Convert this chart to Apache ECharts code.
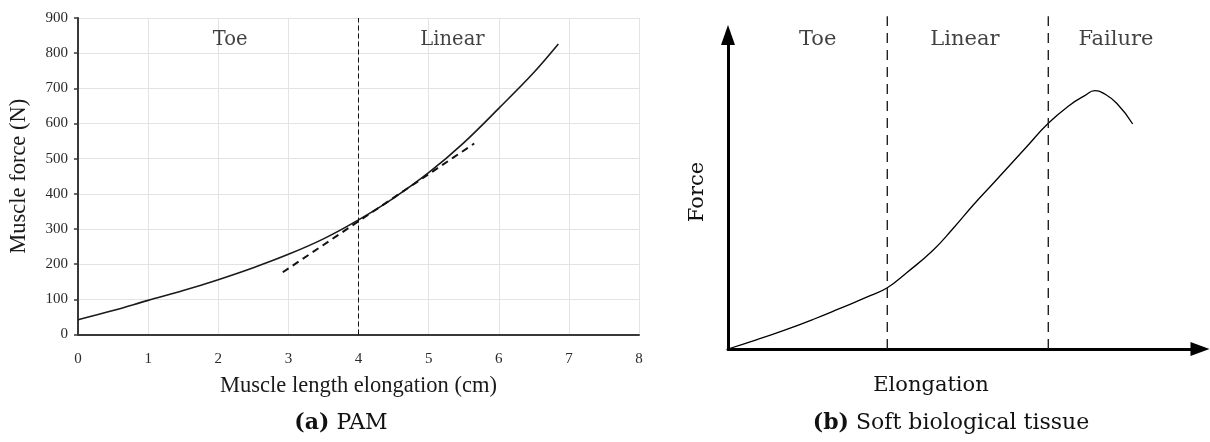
<!DOCTYPE html>
<html>
<head>
<meta charset="utf-8">
<script src="https://cdn.jsdelivr.net/npm/echarts@6/dist/echarts.min.js"></script>
<style>
  html, body { margin: 0; padding: 0; background: #fff; }
  #chart { width: 1210px; height: 442px; }
</style>
</head>
<body>
<div id="chart"></div>
<script>
// (a) PAM: measured force against muscle length elongation
const pamElongation = [0, 0.5, 1, 1.5, 2, 2.5, 3, 3.5, 4, 4.5, 5, 5.5, 6, 6.5, 6.85];
const pamForce = [42, 68, 97, 125, 156, 190, 228, 272, 326, 388, 460, 545, 643, 745, 826];
// linear-region fit (dashed)
const pamFitX = [2.92, 5.65];
const pamFitY = [177, 543];
// boundary between toe and linear regions
const pamBoundary = 4;
const pamRegions = ['Toe', 'Linear'];
const pamRegionX = [2.17, 5.34];
const pamRegionY = 837;
const pamXTicks = [0, 1, 2, 3, 4, 5, 6, 7, 8];
const pamYTicks = [0, 100, 200, 300, 400, 500, 600, 700, 800, 900];

// (b) soft biological tissue: schematic force-elongation curve (arbitrary units)
const tissueElongation = [0, 6, 12, 18, 24, 30, 33.75, 37.86, 43.5, 47.73, 51.97, 56.21, 63.28, 67.86, 72.46, 75.5, 77.75, 79.5, 82.35, 85.74];
const tissueForce = [0, 2.9, 6.0, 9.4, 13.1, 16.9, 19.5, 24.3, 31.53, 38.44, 45.86, 52.77, 64.43, 71.88, 77.71, 80.6, 82.26, 81.5, 78.25, 71.66];
const tissueBoundaries = [33.75, 67.86];
const tissueBoundaryTop = 106;
const tissueRegions = ['Toe', 'Linear', 'Failure'];
const tissueRegionX = [19, 50.2, 82.2];
const tissueRegionY = 98.4;

const serifTimes = '"Liberation Serif", "Times New Roman", serif';
const serifCM = '"DejaVu Serif", serif';

const chart = echarts.init(document.getElementById('chart'), null, { renderer: 'canvas' });

const zip = (xs, ys) => xs.map((x, i) => [x, ys[i]]);

const option = {
  backgroundColor: '#ffffff',
  animation: false,
  grid: [
    { left: 78, right: 571, top: 18, bottom: 107.5, containLabel: false },
    { left: 728, right: 10, top: 35, bottom: 93, containLabel: false }
  ],
  xAxis: [
    {
      gridIndex: 0, type: 'value', min: pamXTicks[0], max: pamXTicks[pamXTicks.length - 1], interval: 1,
      name: 'Muscle length elongation (cm)', nameLocation: 'middle', nameGap: 40,
      nameTextStyle: { fontFamily: serifTimes, fontSize: 22.5, color: '#1a1a1a' },
      axisLine: { show: true, onZero: false, lineStyle: { color: '#383838', width: 2 } },
      axisTick: { show: false },
      axisLabel: { fontFamily: serifTimes, fontSize: 15, color: '#2a2a2a', margin: 17 },
      splitLine: { show: true, lineStyle: { color: '#e3e3e3', width: 1 } }
    },
    {
      gridIndex: 1, type: 'value', min: 0, max: 100,
      name: 'Elongation', nameLocation: 'middle', nameGap: 26,
      nameTextStyle: { fontFamily: serifCM, fontSize: 21, color: '#111', padding: [0, 66, 0, 0] },
      axisLine: { show: true, onZero: false, symbol: ['none', 'triangle'], symbolSize: [14, 19],
        lineStyle: { color: '#000', width: 3 } },
      axisTick: { show: false }, axisLabel: { show: false }, splitLine: { show: false }
    }
  ],
  yAxis: [
    {
      gridIndex: 0, type: 'value', min: pamYTicks[0], max: pamYTicks[pamYTicks.length - 1], interval: 100,
      name: 'Muscle force (N)', nameLocation: 'middle', nameGap: 47, nameRotate: 90,
      nameTextStyle: { fontFamily: serifTimes, fontSize: 22.5, color: '#1a1a1a' },
      axisLine: { show: true, onZero: false, lineStyle: { color: '#383838', width: 2 } },
      axisTick: { show: true, length: 4, lineStyle: { color: '#383838', width: 1.5 } },
      axisLabel: { fontFamily: serifTimes, fontSize: 15, color: '#2a2a2a', margin: 10 },
      splitLine: { show: true, lineStyle: { color: '#e3e3e3', width: 1 } }
    },
    {
      gridIndex: 1, type: 'value', min: 0, max: 100,
      name: 'Force', nameLocation: 'middle', nameGap: 20, nameRotate: 90,
      nameTextStyle: { fontFamily: serifCM, fontSize: 21, color: '#111' },
      axisLine: { show: true, onZero: false, symbol: ['none', 'triangle'], symbolSize: [14, 20],
        lineStyle: { color: '#000', width: 3 } },
      axisTick: { show: false }, axisLabel: { show: false }, splitLine: { show: false }
    }
  ],
  series: [
    {
      name: 'PAM force', type: 'line', xAxisIndex: 0, yAxisIndex: 0,
      data: zip(pamElongation, pamForce), smooth: 0.35, showSymbol: false,
      lineStyle: { color: '#1a1a1a', width: 1.6 },
      markLine: {
        silent: true, symbol: ['none', 'none'], label: { show: false },
        lineStyle: { color: '#111', width: 1, type: [5, 3] },
        data: [{ xAxis: pamBoundary }]
      },
      z: 3
    },
    {
      name: 'Linear fit', type: 'line', xAxisIndex: 0, yAxisIndex: 0,
      data: zip(pamFitX, pamFitY), showSymbol: false,
      lineStyle: { color: '#111', width: 2, type: [7, 5] }, z: 4
    },
    {
      name: 'PAM regions', type: 'scatter', xAxisIndex: 0, yAxisIndex: 0,
      data: pamRegions.map((n, i) => ({ value: [pamRegionX[i], pamRegionY], name: n })),
      symbolSize: 0,
      label: { show: true, position: 'inside', formatter: '{b}', fontFamily: serifCM, fontSize: 19.5, color: '#111' }
    },
    {
      name: 'Tissue force', type: 'line', xAxisIndex: 1, yAxisIndex: 1,
      data: zip(tissueElongation, tissueForce), smooth: 0.5, showSymbol: false,
      lineStyle: { color: '#000', width: 1.3 }, z: 3
    },
    ...tissueBoundaries.map((bx, i) => ({
      name: 'Boundary ' + (i + 1), type: 'line', xAxisIndex: 1, yAxisIndex: 1,
      data: [[bx, 0], [bx, tissueBoundaryTop]], showSymbol: false, clip: false,
      lineStyle: { color: '#222', width: 1.4, type: [10, 7] }
    })),
    {
      name: 'Tissue regions', type: 'scatter', xAxisIndex: 1, yAxisIndex: 1,
      data: tissueRegions.map((n, i) => ({ value: [tissueRegionX[i], tissueRegionY], name: n })),
      symbolSize: 0, clip: false,
      label: { show: true, position: 'inside', formatter: '{b}', fontFamily: serifCM, fontSize: 21, color: '#111' }
    }
  ],
  graphic: [
    {
      type: 'text', x: 341, y: 423,
      style: {
        text: '{b|(a)} PAM', textAlign: 'center', textVerticalAlign: 'middle',
        fontFamily: serifCM, fontSize: 22, fill: '#111',
        rich: { b: { fontFamily: serifCM, fontSize: 22, fontWeight: 'bold', fill: '#111' } }
      }
    },
    {
      type: 'text', x: 951, y: 423,
      style: {
        text: '{b|(b)} Soft biological tissue', textAlign: 'center', textVerticalAlign: 'middle',
        fontFamily: serifCM, fontSize: 22, fill: '#111',
        rich: { b: { fontFamily: serifCM, fontSize: 22, fontWeight: 'bold', fill: '#111' } }
      }
    }
  ]
};

chart.setOption(option);
</script>
</body>
</html>
